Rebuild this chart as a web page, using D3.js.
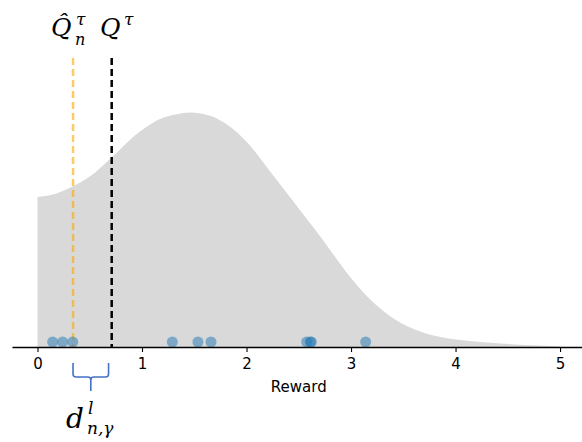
<!DOCTYPE html>
<html lang="en">
<head>
    <meta charset="UTF-8">
    <title>Reward distribution</title>
    <style>
        body {
            margin: 0;
            background: #fff;
        }
        .tick text {
            font-family: "DejaVu Sans", sans-serif;
            font-size: 15px;
        }
        .math {
            font-family: "DejaVu Serif", serif;
            font-style: italic;
        }
    </style>
</head>
<body>
<div id="chart"></div>

<script src="https://cdn.jsdelivr.net/npm/d3@7"></script>
<script>
    // density curve
    const densityX = [0, 0.12, 0.34, 0.5, 0.71, 0.98, 1.2, 1.33, 1.46, 1.555, 1.715, 1.874, 2.033, 2.193, 2.352, 2.512, 2.672, 2.831, 2.99, 3.15, 3.309, 3.469, 3.629, 3.788, 4.107, 4.426, 4.713, 5.0];
    const densityY = [0.25, 0.253, 0.268, 0.284, 0.316, 0.359, 0.382, 0.388, 0.391, 0.389, 0.381, 0.363, 0.336, 0.3, 0.264, 0.228, 0.192, 0.154, 0.117, 0.085, 0.06, 0.041, 0.028, 0.019, 0.0105, 0.006, 0.0028, 0.001];

    // sampled rewards
    const samples = [0.145, 0.24, 0.337, 1.29, 1.535, 1.66, 2.575, 2.61, 2.62, 3.14];

    const qHat = 0.34;   // empirical quantile
    const qTrue = 0.71;  // true quantile
    const braceRange = [0.34, 0.68];

    const xTicks = [0, 1, 2, 3, 4, 5];

    const width = 582;
    const height = 442;
    const baseY = 347;

    const svg = d3.select("#chart")
        .append("svg")
        .attr("width", width)
        .attr("height", height);

    const x = d3.scaleLinear()
        .domain([-0.244, 5.21])
        .range([12, 582]);

    const y = d3.scaleLinear()
        .domain([0, 0.5])
        .range([baseY, 47]);

    const curve = densityX.map((d, i) => [d, densityY[i]]);

    // shaded density
    svg.append("path")
        .datum(curve)
        .attr("fill", "#d9d9d9")
        .attr("d", d3.area()
            .x(d => x(d[0]))
            .y0(y(0))
            .y1(d => y(d[1]))
            .curve(d3.curveMonotoneX));

    // quantile lines
    svg.append("line")
        .attr("x1", x(qHat)).attr("x2", x(qHat))
        .attr("y1", 58).attr("y2", baseY)
        .attr("stroke", "orange")
        .attr("stroke-opacity", 0.6)
        .attr("stroke-width", 2.5)
        .attr("stroke-dasharray", "7,4");

    svg.append("line")
        .attr("x1", x(qTrue)).attr("x2", x(qTrue))
        .attr("y1", 58).attr("y2", baseY)
        .attr("stroke", "#000")
        .attr("stroke-width", 2.5)
        .attr("stroke-dasharray", "7,4");

    // samples
    svg.selectAll(".sample")
        .data(samples)
        .enter()
        .append("circle")
        .attr("class", "sample")
        .attr("cx", d => x(d))
        .attr("cy", baseY - 5)
        .attr("r", 5.5)
        .attr("fill", "#1f77b4")
        .attr("fill-opacity", 0.5);

    // x axis
    const xAxis = d3.axisBottom(x)
        .tickValues(xTicks)
        .tickSize(5)
        .tickSizeOuter(0)
        .tickFormat(d3.format("d"));

    const ax = svg.append("g")
        .attr("transform", "translate(0," + baseY + ")")
        .call(xAxis);
    ax.select(".domain").attr("stroke-width", 1.3);
    ax.selectAll(".tick line").attr("stroke-width", 1.1);
    ax.selectAll(".tick text").attr("dy", "0.95em").attr("fill", "#000");

    svg.append("text")
        .attr("x", (x(0) + x(5)) / 2)
        .attr("y", 392)
        .attr("text-anchor", "middle")
        .style("font-family", "DejaVu Sans, sans-serif")
        .style("font-size", "15px")
        .text("Reward");

    // brace under the gap
    const bx0 = x(braceRange[0]);
    const bx1 = x(braceRange[1]);
    const bm = (bx0 + bx1) / 2;
    svg.append("path")
        .attr("fill", "none")
        .attr("stroke", "#4472c4")
        .attr("stroke-width", 1.6)
        .attr("d", `M${bx0},363 L${bx0},374 Q${bx0},377 ${bx0 + 3},377 L${bm - 3},377 Q${bm},377 ${bm},380 L${bm},391
                    M${bm},380 Q${bm},377 ${bm + 3},377 L${bx1 - 3},377 Q${bx1},377 ${bx1},374 L${bx1},363`);

    // math labels: base letter plus its super/subscripts
    function mathLabel(parts) {
        parts.forEach(p => {
            svg.append("text")
                .attr("class", "math")
                .attr("x", p.x)
                .attr("y", p.y)
                .style("font-size", p.size + "px")
                .text(p.t);
        });
    }

    mathLabel([
        {t: "Q\u0302", x: 51, y: 36, size: 25},
        {t: "τ", x: 76, y: 25, size: 17},
        {t: "n", x: 75, y: 45, size: 16}
    ]);
    mathLabel([
        {t: "Q", x: 100, y: 36, size: 25},
        {t: "τ", x: 124, y: 25, size: 17}
    ]);
    mathLabel([
        {t: "d", x: 66, y: 428, size: 28},
        {t: "l", x: 88, y: 414, size: 17},
        {t: "n,γ", x: 87, y: 434, size: 17}
    ]);
</script>
</body>
</html>
